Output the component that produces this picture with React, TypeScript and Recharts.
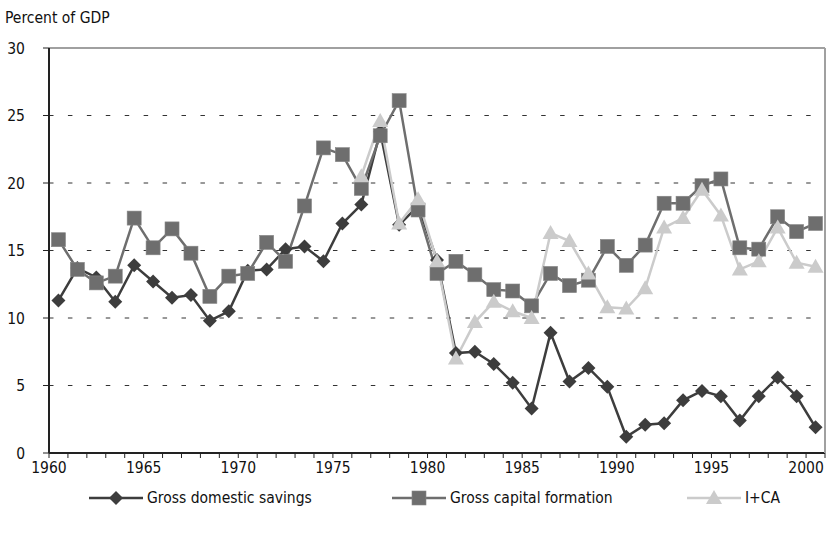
import React from 'react';
import { LineChart, Line, XAxis, YAxis, CartesianGrid, Legend, ReferenceLine } from 'recharts';

// years covered by the series
const years = [
  1960, 1961, 1962, 1963, 1964, 1965, 1966, 1967, 1968, 1969,
  1970, 1971, 1972, 1973, 1974, 1975, 1976, 1977, 1978, 1979,
  1980, 1981, 1982, 1983, 1984, 1985, 1986, 1987, 1988, 1989,
  1990, 1991, 1992, 1993, 1994, 1995, 1996, 1997, 1998, 1999, 2000,
];

const grossDomesticSavings = [
  11.3, 13.7, 13.0, 11.2, 13.9, 12.7, 11.5, 11.7, 9.8, 10.5,
  13.5, 13.6, 15.1, 15.3, 14.2, 17.0, 18.4, 23.8, 16.9, 18.3,
  14.3, 7.4, 7.5, 6.6, 5.2, 3.3, 8.9, 5.3, 6.3, 4.9,
  1.2, 2.1, 2.2, 3.9, 4.6, 4.2, 2.4, 4.2, 5.6, 4.2, 1.9,
];

const grossCapitalFormation = [
  15.8, 13.6, 12.6, 13.1, 17.4, 15.2, 16.6, 14.8, 11.6, 13.1,
  13.3, 15.6, 14.2, 18.3, 22.6, 22.1, 19.6, 23.5, 26.1, 18.0,
  13.3, 14.2, 13.2, 12.1, 12.0, 10.9, 13.3, 12.4, 12.8, 15.3,
  13.9, 15.4, 18.5, 18.5, 19.8, 20.3, 15.2, 15.1, 17.5, 16.4, 17.0,
];

const investmentPlusCA: (number | null)[] = [
  null, null, null, null, null, null, null, null, null, null,
  null, null, null, null, null, null, 20.5, 24.6, 17.0, 18.8,
  14.2, 7.0, 9.7, 11.2, 10.5, 10.0, 16.3, 15.7, 13.3, 10.8,
  10.7, 12.2, 16.7, 17.4, 19.5, 17.6, 13.6, 14.2, 16.7, 14.1, 13.8,
];

const yTicks = [0, 5, 10, 15, 20, 25, 30];
const labelYears = [1960, 1965, 1970, 1975, 1980, 1985, 1990, 1995, 2000];
// tick marks sit on year boundaries, points sit mid-year
const boundaryTicks = [...years, 2001];

const data = years.map((year, i) => ({
  year,
  mid: year + 0.5,
  savings: grossDomesticSavings[i],
  capital: grossCapitalFormation[i],
  ica: investmentPlusCA[i],
}));

const FONT = "'Liberation Sans Narrow', 'DejaVu Sans Condensed', 'Roboto Condensed', Arial, sans-serif";
const FS = 15.5;

const C_SAV = '#3d3d3d';
const C_CAP = '#6e6e6e';
const C_ICA = '#cbcbcb';

const Diamond = ({ cx, cy, c }: any) => {
  if (cx == null || cy == null) return null;
  const r = 7;
  return <polygon points={`${cx},${cy - r} ${cx + r},${cy} ${cx},${cy + r} ${cx - r},${cy}`} fill={c} />;
};

const Square = ({ cx, cy, c }: any) => {
  if (cx == null || cy == null) return null;
  const h = 7;
  return <rect x={cx - h} y={cy - h} width={h * 2} height={h * 2} fill={c} stroke="#858585" strokeWidth={0.6} />;
};

const Triangle = ({ cx, cy, c }: any) => {
  if (cx == null || cy == null) return null;
  return <polygon points={`${cx},${cy - 8} ${cx + 8},${cy + 6} ${cx - 8},${cy + 6}`} fill={c} />;
};

const XTick = ({ x, y, payload }: any) => {
  const v = payload.value;
  return (
    <g>
      <line x1={x} x2={x} y1={y - 9} y2={y - 4} stroke="#222" strokeWidth={1} />
      {labelYears.includes(v) && (
        <text x={x} y={y} dy="0.71em" textAnchor="middle" fontSize={FS} fontFamily={FONT} fill="#111">
          {v}
        </text>
      )}
    </g>
  );
};

const legendItems = [
  { name: 'Gross domestic savings', color: C_SAV, Marker: Diamond, left: 89 },
  { name: 'Gross capital formation', color: C_CAP, Marker: Square, left: 392 },
  { name: 'I+CA', color: C_ICA, Marker: Triangle, left: 687 },
];

const LegendContent = () => (
  <div style={{ position: 'relative', width: 830, height: 52 }}>
    {legendItems.map(({ name, color, Marker, left }) => (
      <div
        key={name}
        style={{ position: 'absolute', left, top: 5, height: 20, display: 'flex', alignItems: 'center' }}
      >
        <svg width={54} height={20}>
          <line x1={0} x2={54} y1={10} y2={10} stroke={color} strokeWidth={2.5} />
          <Marker cx={27} cy={10} c={color} />
        </svg>
        <span style={{ marginLeft: 4, fontSize: FS, fontFamily: FONT, color: '#111' }}>{name}</span>
      </div>
    ))}
  </div>
);

export default function App() {
  return (
    <div style={{ position: 'absolute', left: 0, top: 0, width: 830, height: 535, background: '#fff' }}>
      <div style={{ position: 'absolute', left: 5, top: 9, fontSize: FS, fontFamily: FONT, color: '#111' }}>
        Percent of GDP
      </div>
      <LineChart width={830} height={535} data={data} margin={{ top: 48, right: 0, bottom: 0, left: 0 }}>
        <CartesianGrid vertical={false} stroke="#333" strokeDasharray="4.5 14.43" />
        <XAxis
          dataKey="mid"
          type="number"
          domain={[1960, 2001]}
          ticks={boundaryTicks}
          interval={0}
          height={30}
          tickSize={0}
          tickMargin={9}
          tick={<XTick />}
          axisLine={{ stroke: '#222', strokeWidth: 2 }}
          tickLine={false}
        />
        <YAxis
          domain={[0, 30]}
          ticks={yTicks}
          width={49}
          tickSize={6}
          tickMargin={18}
          tick={{ fontSize: FS, fontFamily: FONT, fill: '#111' }}
          axisLine={{ stroke: '#222', strokeWidth: 2 }}
          tickLine={{ stroke: '#222' }}
        />
        <YAxis
          yAxisId="right"
          orientation="right"
          domain={[0, 30]}
          width={5}
          tick={false}
          tickLine={false}
          axisLine={{ stroke: '#a0a0a0', strokeWidth: 2 }}
        />
        <ReferenceLine y={30} stroke="#a0a0a0" strokeWidth={2} />
        <Legend verticalAlign="bottom" height={52} content={<LegendContent />} />
        <Line
          dataKey="savings"
          stroke={C_SAV}
          strokeWidth={2.5}
          dot={<Diamond c={C_SAV} />}
          activeDot={false}
          isAnimationActive={false}
        />
        <Line
          dataKey="capital"
          stroke={C_CAP}
          strokeWidth={2.5}
          dot={<Square c={C_CAP} />}
          activeDot={false}
          isAnimationActive={false}
        />
        <Line
          dataKey="ica"
          stroke={C_ICA}
          strokeWidth={2.5}
          dot={<Triangle c={C_ICA} />}
          activeDot={false}
          connectNulls={false}
          isAnimationActive={false}
        />
      </LineChart>
    </div>
  );
}
